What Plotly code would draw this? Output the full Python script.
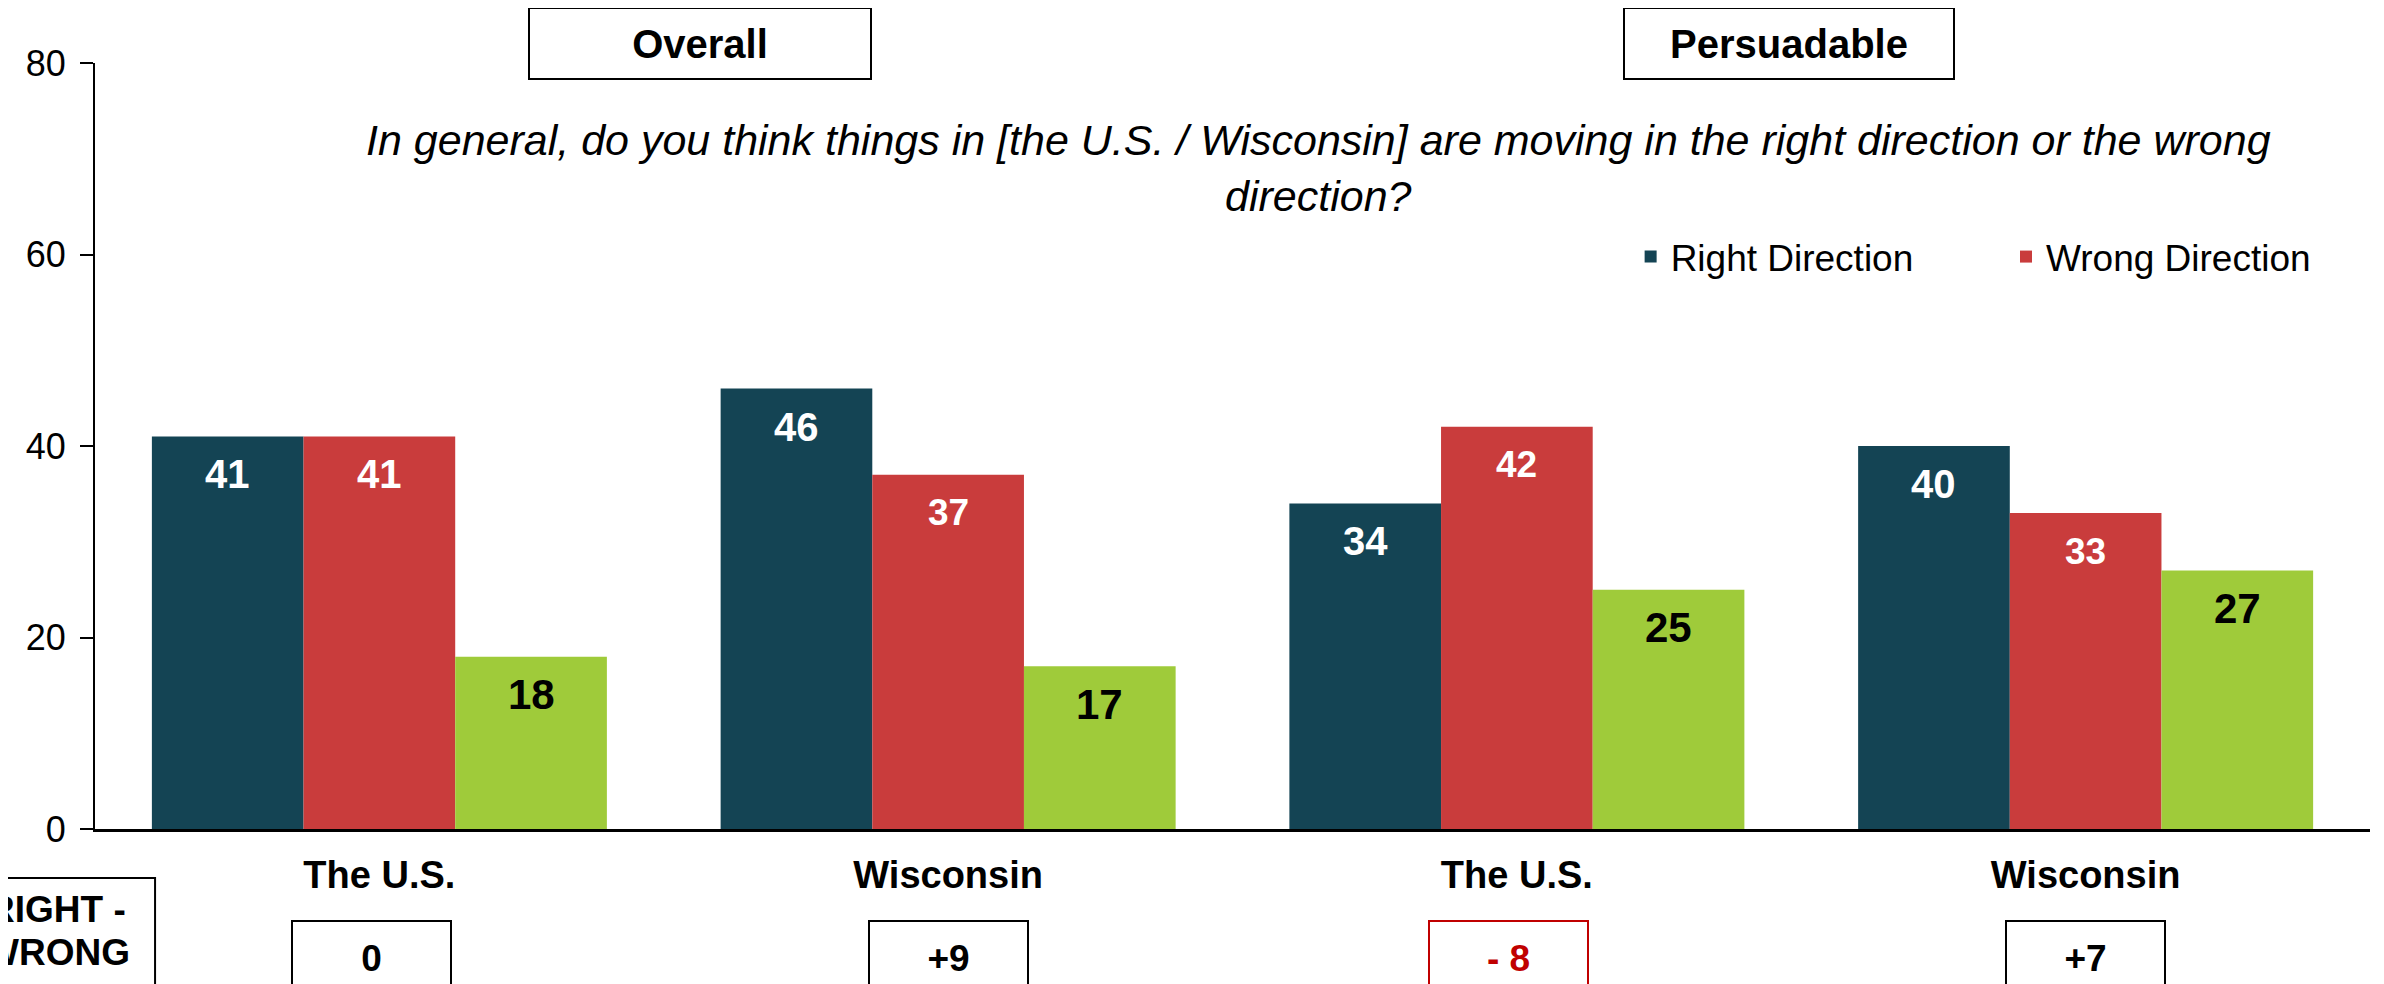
import plotly.graph_objects as go

categories = ["The U.S.", "Wisconsin", "The U.S.", "Wisconsin"]
right_direction = [41, 46, 34, 40]
wrong_direction = [41, 37, 42, 33]
unsure = [18, 17, 25, 27]
net_labels = ["0", "+9", "- 8", "+7"]
net_colors = ["#000000", "#000000", "#C00000", "#000000"]
panel_titles = ["Overall", "Persuadable"]
question = ("In general, do you think things in [the U.S. / Wisconsin] are moving in the right direction or the wrong"
            "<br>direction?")

C_RIGHT = "#144454"
C_WRONG = "#C93C3C"
C_UNSURE = "#9FCB3A"
FONT = "Liberation Sans, Arial, sans-serif"

xpos = list(range(len(categories)))
n_series = 3
bargap = 0.2
bw = (1 - bargap) / n_series

fig = go.Figure()
fig.add_trace(go.Bar(x=xpos, y=right_direction, name="Right Direction", legend="legend",
                     marker=dict(color=C_RIGHT, line=dict(width=0))))
fig.add_trace(go.Bar(x=xpos, y=wrong_direction, name="Wrong Direction", legend="legend2",
                     marker=dict(color=C_WRONG, line=dict(width=0))))
fig.add_trace(go.Bar(x=xpos, y=unsure, name="Unsure", showlegend=False,
                     marker=dict(color=C_UNSURE, line=dict(width=0))))

annotations = []
series_specs = [
    (right_direction, -bw, "white", [40, 40, 40, 40]),
    (wrong_direction, 0.0, "white", [40, 37, 37, 37]),
    (unsure, bw, "black", [42, 42, 42, 42]),
]
for vals, off, col, sizes in series_specs:
    for i, v in enumerate(vals):
        annotations.append(dict(x=xpos[i] + off, y=v, xref="x", yref="y", text=f"<b>{v}</b>",
                                showarrow=False, yanchor="middle", yshift=-38,
                                font=dict(family=FONT, size=sizes[i], color=col)))

# panel title boxes
for t, px, w in zip(panel_titles, [0.2659, 0.7446], [340, 328]):
    annotations.append(dict(x=px, y=1.0255, xref="paper", yref="paper", text=f"<b>{t}</b>",
                            showarrow=False, xanchor="center", yanchor="middle",
                            width=w, height=69, borderpad=0, bordercolor="black", borderwidth=2,
                            bgcolor="white", font=dict(family=FONT, size=40, color="black")))

# question
annotations.append(dict(x=0.5376, y=0.863, xref="paper", yref="paper", text=f"<i>{question}</i>",
                        showarrow=False, xanchor="center", yanchor="middle", align="center",
                        font=dict(family=FONT, size=43, color="black")))

# net boxes
net_xshift = [-8, 0, -8, 0]
for i, (lab, col) in enumerate(zip(net_labels, net_colors)):
    annotations.append(dict(x=xpos[i], y=-0.168, xref="x", yref="paper", text=f"<b>{lab}</b>",
                            showarrow=False, xanchor="center", yanchor="middle", xshift=net_xshift[i],
                            width=157, height=72, borderpad=0, bordercolor=col, borderwidth=2,
                            font=dict(family=FONT, size=37, color=col)))

# RIGHT - WRONG label
for line, py in [("RIGHT -", -0.1057), ("WRONG", -0.1606)]:
    annotations.append(dict(x=-0.0165, y=py, xref="paper", yref="paper", text=f"<b>{line}</b>",
                            showarrow=False, xanchor="center", yanchor="middle",
                            font=dict(family=FONT, size=37, color="black")))

shapes = [dict(type="rect", xref="paper", yref="paper", x0=-0.0615, x1=0.0264, y0=-0.236, y1=-0.064,
               line=dict(color="black", width=2), fillcolor="rgba(0,0,0,0)")]

legend_common = dict(orientation="h", xanchor="left", y=0.7467, yanchor="middle",
                     font=dict(family=FONT, size=37, color="black"), bgcolor="rgba(0,0,0,0)")

fig.update_layout(
    width=2376, height=976,
    margin=dict(l=87, r=14, t=55, b=155),
    paper_bgcolor="white", plot_bgcolor="white",
    barmode="group", bargap=bargap, bargroupgap=0,
    font=dict(family=FONT, size=37, color="black"),
    legend=dict(x=0.675, **legend_common),
    legend2=dict(x=0.840, **legend_common),
    annotations=annotations,
    shapes=shapes,
    xaxis=dict(range=[-0.5, len(categories) - 0.5], tickvals=xpos,
               ticktext=[f"<b>{c}</b>" for c in categories], showgrid=False, zeroline=False,
               showline=True, linecolor="black", linewidth=3, ticks="", ticklabelstandoff=10,
               tickfont=dict(family=FONT, size=38, color="black")),
    yaxis=dict(range=[0, 80], tickvals=[0, 20, 40, 60, 80], showgrid=False, zeroline=False,
               showline=True, linecolor="black", linewidth=2, ticks="outside", ticklen=13,
               tickcolor="black", tickwidth=2, ticklabelstandoff=7,
               tickfont=dict(family=FONT, size=36, color="black")),
)

fig.write_html("out.html")
